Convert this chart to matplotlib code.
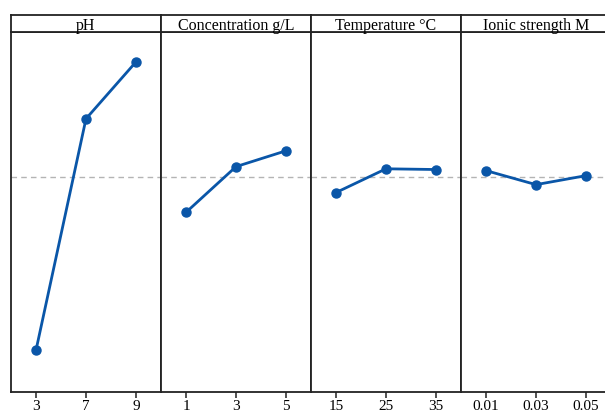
import matplotlib
matplotlib.use('Agg')
import matplotlib.pyplot as plt

plt.rcParams['font.family'] = ['Liberation Serif', 'DejaVu Serif']

factors = ['pH', 'Concentration g/L', 'Temperature \u00b0C', 'Ionic strength M']
levels = [['3', '7', '9'], ['1', '3', '5'], ['15', '25', '35'], ['0.01', '0.03', '0.05']]
means = [[11.6, 75.9, 91.7],
         [49.9, 62.6, 67.0],
         [55.4, 62.0, 61.8],
         [61.5, 57.6, 60.1]]
grand_mean = 59.8

W, H = 605, 414
fig = plt.figure(figsize=(W / 100, H / 100), dpi=100)

left = 11
pw = 150
top_strip = 16
plot_top = 33
plot_bot = 393
col = '#0a56a8'

for i, (name, labs, vals) in enumerate(zip(factors, levels, means)):
    x0 = left + i * pw
    ax = fig.add_axes([x0 / W, 1 - plot_bot / H, pw / W, (plot_bot - plot_top) / H])
    xs = list(range(len(vals)))
    ax.plot(xs, vals, color=col, lw=2, marker='o', ms=6.5, zorder=3)
    ax.axhline(grand_mean, color='#b4b4b4', lw=1, ls=(0, (4, 3)), zorder=1)
    ax.set_xlim(-0.5, 2.5)
    ax.set_ylim(0, 100)
    ax.set_yticks([])
    ax.set_xticks(xs)
    ax.set_xticklabels(labs, fontsize=11)
    ax.tick_params(axis='x', length=4, width=1.2, pad=1, color='#333333')
    for s in ax.spines.values():
        s.set_linewidth(1.3)
        s.set_color('#222222')

    # header strip
    hx = fig.add_axes([x0 / W, 1 - plot_top / H, pw / W, (plot_top - top_strip) / H])
    hx.set_xticks([])
    hx.set_yticks([])
    for s in hx.spines.values():
        s.set_linewidth(1.3)
        s.set_color('#222222')
    hx.text(0.5, 0.42, name, ha='center', va='center', fontsize=11.5, transform=hx.transAxes)

fig.savefig('out.png', dpi=100, facecolor='white')
